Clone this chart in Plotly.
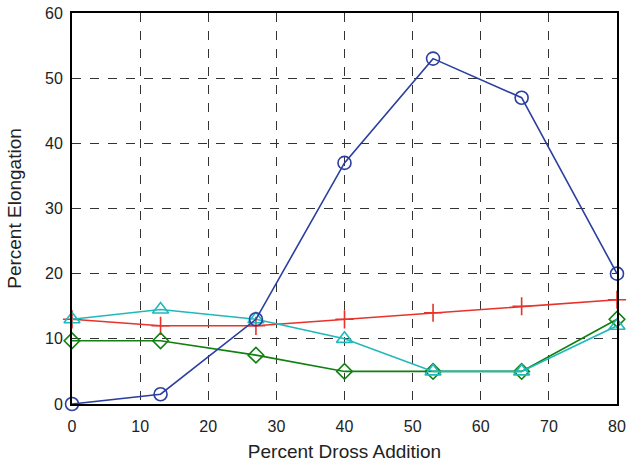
import plotly.graph_objects as go

dross = [0, 13, 27, 40, 53, 66, 80]
blue_circle = [0, 1.5, 13, 37, 53, 47, 20]
red_plus = [13, 12, 12, 13, 14, 15, 16]
cyan_triangle = [13, 14.5, 13, 10, 5, 5, 12]
green_diamond = [9.7, 9.7, 7.5, 5, 5, 5, 13]

x_ticks = [0, 10, 20, 30, 40, 50, 60, 70, 80]
y_ticks = [0, 10, 20, 30, 40, 50, 60]

fig = go.Figure()

def add(y, color, symbol, size):
    fig.add_trace(go.Scatter(
        x=dross, y=y, mode="lines+markers",
        line=dict(color=color, width=1.6),
        marker=dict(symbol=symbol, size=size, color=color,
                    line=dict(color=color, width=1.6)),
        cliponaxis=False, showlegend=False))

add(red_plus, "#e8322a", "cross-thin-open", 13)
add(green_diamond, "#108010", "diamond-open", 12)
add(cyan_triangle, "#20b8b8", "triangle-up-open", 14)
add(blue_circle, "#2a3f9f", "circle-open", 13)

FONT = "Liberation Sans, Arial, sans-serif"
axis_common = dict(
    showgrid=True, gridcolor="#333333", griddash="dash", gridwidth=1,
    showline=True, linecolor="black", linewidth=2, mirror=True,
    ticks="", zeroline=False, automargin=False, ticklabeloverflow="allow",
    tickfont=dict(family=FONT, size=16, color="#222"),
)

fig.update_layout(
    width=629, height=466,
    margin=dict(l=72, r=12, t=13, b=62),
    paper_bgcolor="white", plot_bgcolor="white",
    xaxis=dict(range=[0, 80], tickvals=x_ticks, ticklabelstandoff=7,
               title=dict(text="Percent Dross Addition", standoff=10,
                          font=dict(family=FONT, size=19, color="#222")),
               **axis_common),
    yaxis=dict(range=[0, 60], tickvals=y_ticks, ticklabelstandoff=4,
               title=dict(text="Percent Elongation", standoff=18,
                          font=dict(family=FONT, size=19, color="#222")),
               **axis_common),
)

fig.write_html("out.html", config={"displayModeBar": False},
               post_script="document.body.style.margin='0';document.body.style.overflow='hidden';")
